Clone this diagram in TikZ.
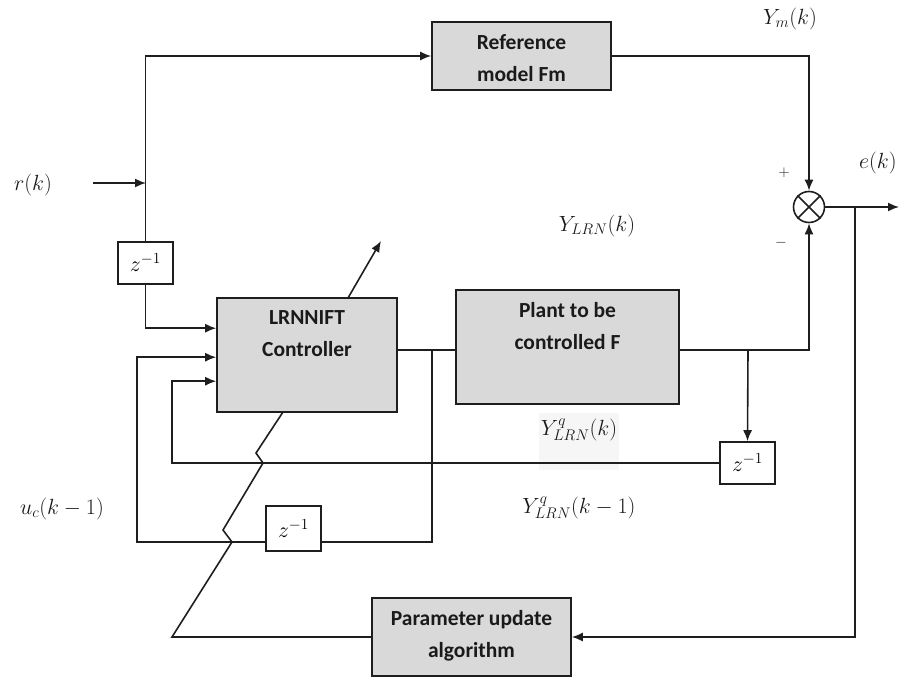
\RequirePackage{fix-cm}
\documentclass[tikz,border=0pt]{standalone}
\usepackage{fontspec}
\setmainfont{Carlito}
\usetikzlibrary{arrows.meta,calc}
\definecolor{linecol}{HTML}{1E1E1E}
\definecolor{blockfill}{HTML}{D9D9D9}
\definecolor{textcol}{HTML}{1A1A1A}
\definecolor{haze}{HTML}{F6F6F6}
\begin{document}
\begin{tikzpicture}[x=1pt,y=-1pt,
  wire/.style={line width=1.6pt, draw=linecol},
  sig/.style={wire, -{Latex[length=11pt,width=9pt]}},
  blockbox/.style={draw=linecol, line width=1.6pt, fill=blockfill, inner sep=0pt},
  blocktext/.style={font=\bfseries\fontsize{21.5}{32}\selectfont, align=center, inner sep=0pt, text=textcol},
  delaybox/.style={draw=linecol, line width=1.6pt, fill=white, minimum width=55pt, inner sep=0pt, font=\fontsize{22}{24}\selectfont},
  mathlabel/.style={font=\fontsize{22}{26}\selectfont, inner sep=0pt, text=textcol},
]
\useasboundingbox (0,0) rectangle (899,677);

% faint patch behind the plant output label
\fill[haze] (539,413) rectangle (619,470);

% main blocks
\node[blockbox, minimum width=179pt, minimum height=68pt] (ref) at (521.5,56) {};
\node[blocktext, anchor=north] (reftxt) at ($(ref.north)+(0,13)$) {Reference\\model Fm};
\node[blockbox, minimum width=180pt, minimum height=114pt] (ctrl) at (307,355) {};
\node[blocktext, anchor=north] (ctrltxt) at ($(ctrl.north)+(0,13)$) {LRNNIFT\\Controller};
\node[blockbox, minimum width=223pt, minimum height=114pt] (plant) at (567.5,347) {};
\node[blocktext, anchor=north] (planttxt) at ($(plant.north)+(0,13)$) {Plant to be\\controlled F};
\node[blockbox, minimum width=199pt, minimum height=78pt] (param) at (471.5,637) {};
\node[blocktext, anchor=north] (paramtxt) at ($(param.north)+(0,13)$) {Parameter update\\algorithm};

% unit delays
\node[delaybox, minimum height=42pt] (z1) at (145.5,263) {$z^{-1}$};
\node[delaybox, minimum height=42pt] (z2) at (747.5,463) {$z^{-1}$};
\node[delaybox, minimum height=45pt] (z3) at (293.5,528.5) {$z^{-1}$};

% summing junction
\node[draw=linecol, line width=1.6pt, circle, minimum size=31pt, inner sep=0pt] (sum) at (809,207) {};
\draw[wire] (sum.north west) -- (sum.south east) (sum.north east) -- (sum.south west);

% junction points
\coordinate (rin) at (93,183);
\coordinate (rj) at (146,183);
\coordinate (cin1) at ($(ctrl.north west)+(0,31)$);
\coordinate (cin2) at ($(ctrl.north west)+(0,60)$);
\coordinate (cin3) at ($(ctrl.north west)+(0,84)$);
\coordinate (u) at (432,350);
\coordinate (fb) at (432,542);
\coordinate (lx1) at (137,542);
\coordinate (pb) at (748,350);
\coordinate (lx2) at (172,463);
\coordinate (eo) at (899,207);
\coordinate (ej) at (855,207);
\coordinate (k1) at (172,637);
\coordinate (k2) at (232,542);
\coordinate (k3) at (223,530);
\coordinate (k4) at (263,463);
\coordinate (k5) at (256,453);
\coordinate (k6) at (283,412);
\coordinate (tuneA) at (348,298);
\coordinate (tuneB) at (381,241);

% reference path
\draw[sig] (rin) -- (rj);
\draw[sig] (z1.north) |- (ref.west);
\draw[sig] (ref.east) -| (sum.north);
\draw[sig] (z1.south) |- (cin1);

% control signal and its delayed copy
\draw[wire] (ctrl.east |- u) -- (plant.west |- u);
\draw[wire] (u) -- (fb) -- (z3.east |- fb);
\draw[sig] (z3.west |- fb) -- (lx1) |- (cin2);

% plant output and its delayed copy
\draw[sig] (plant.east |- u) -| (sum.south);
\draw[sig] (pb) -- (z2.north);
\draw[sig] (z2.west) -- (lx2) |- (cin3);

% error signal
\draw[sig] (sum.east) -- (eo);
\draw[sig] (ej) |- (param.east);

% parameter adjustment through the controller
\draw[wire] (param.west) -- (k1) -- (k2) -- (k3) -- (k4) -- (k5) -- (k6);
\draw[sig] (tuneA) -- (tuneB);

% signal labels
\node[mathlabel] (lr) at (33,185) {$r(k)$};
\node[mathlabel] (lym) at (790,19) {$Y_{m}(k)$};
\node[mathlabel, anchor=west] (le) at (859,163) {$e(k)$};
\node[mathlabel, font=\fontsize{15}{16}\selectfont] (lplus) at (784,173) {$+$};
\node[mathlabel, font=\fontsize{15}{16}\selectfont] (lminus) at (781,243) {$-$};
\node[mathlabel] (lylrn) at (597,226) {$Y_{LRN}(k)$};
\node[mathlabel] (lyq) at (579,430) {$Y^{q}_{LRN}(k)$};
\node[mathlabel] (lyq1) at (579,508) {$Y^{q}_{LRN}(k-1)$};
\node[mathlabel] (luc) at (62,509) {$u_{c}(k-1)$};
\end{tikzpicture}
\end{document}
